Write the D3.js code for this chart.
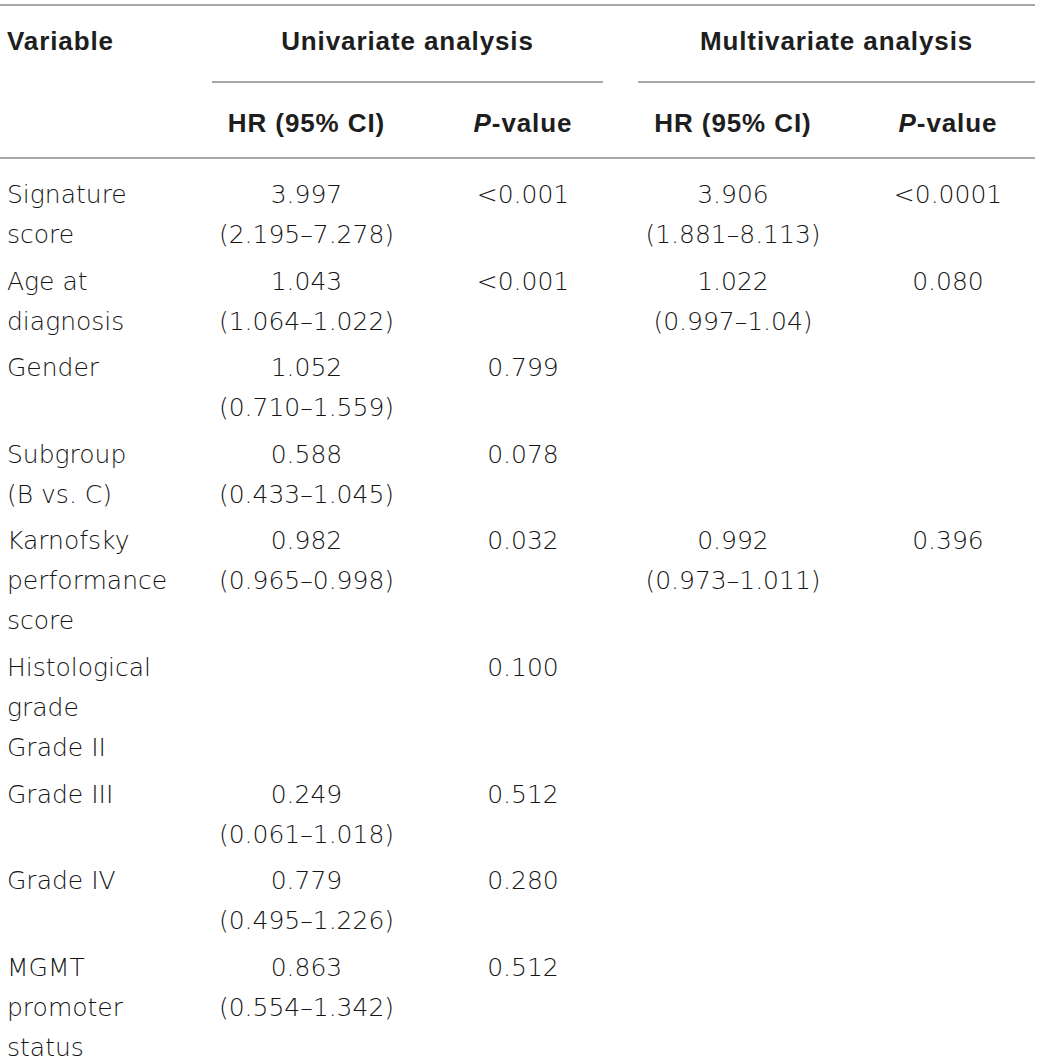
<!DOCTYPE html>
<html>
<head>
<meta charset="utf-8">
<script src="https://cdn.jsdelivr.net/npm/d3@7"></script>
<style>
  html, body { margin: 0; padding: 0; background: #fff; }
  svg { display: block; }
</style>
</head>
<body>
<div id="chart"></div>
<script>
// ---- Data ----
const variableLines = [
  ["Signature", "score"],
  ["Age at", "diagnosis"],
  ["Gender"],
  ["Subgroup", "(B vs. C)"],
  ["Karnofsky", "performance", "score"],
  ["Histological", "grade", "Grade II"],
  ["Grade III"],
  ["Grade IV"],
  ["MGMT", "promoter", "status"]
];
const uniHR = ["3.997", "1.043", "1.052", "0.588", "0.982", "", "0.249", "0.779", "0.863"];
const uniCI = ["(2.195–7.278)", "(1.064–1.022)", "(0.710–1.559)", "(0.433–1.045)", "(0.965–0.998)", "", "(0.061–1.018)", "(0.495–1.226)", "(0.554–1.342)"];
const uniP = ["<0.001", "<0.001", "0.799", "0.078", "0.032", "0.100", "0.512", "0.280", "0.512"];
const multiHR = ["3.906", "1.022", "", "", "0.992", "", "", "", ""];
const multiCI = ["(1.881–8.113)", "(0.997–1.04)", "", "", "(0.973–1.011)", "", "", "", ""];
const multiP = ["<0.0001", "0.080", "", "", "0.396", "", "", "", ""];
const groupHeaders = ["Univariate analysis", "Multivariate analysis"];
const columnKeys = ["var", "uHR", "uP", "mHR", "mP"];

// ---- Layout ----
const W = 1040, H = 1062;
const svg = d3.select("#chart").append("svg").attr("width", W).attr("height", H);

const bodyFont = "'DejaVu Sans', 'Liberation Sans', Arial, sans-serif";
const headFont = "'Liberation Sans', Arial, Helvetica, sans-serif";
const bodySize = 25;
const headSize = 26;
const textColor = "#151515";
const ruleColor = "#8a8a8a";

const xCol = d3.scaleOrdinal().domain(columnKeys).range([7, 306.5, 523, 733, 948]);
const groupSpan = [[212, 603], [638, 1035]];
const lineStep = 40, rowGap = 6.6, firstBaseline = 203;

// build line list (row index + line-in-row)
const lines = [];
let cum = 0;
variableLines.forEach((vl, i) => {
  const n = Math.max(vl.length, (uniCI[i] || multiCI[i]) ? 2 : 1);
  for (let k = 0; k < n; k++) {
    lines.push({
      pos: cum + k, row: i,
      var: vl[k] || "",
      uHR: k === 0 ? uniHR[i] : (k === 1 ? uniCI[i] : ""),
      uP: k === 0 ? uniP[i] : "",
      mHR: k === 0 ? multiHR[i] : (k === 1 ? multiCI[i] : ""),
      mP: k === 0 ? multiP[i] : ""
    });
  }
  cum += n;
});
const yLine = d3.scaleLinear().domain([0, 1]).range([firstBaseline, firstBaseline + lineStep]);
const yRow = d3.scaleLinear().domain([0, 1]).range([0, rowGap]);
const y = d => yLine(d.pos) + yRow(d.row);

// rules
const rules = [
  { x1: 0, x2: 1035, y: 5 },
  { x1: groupSpan[0][0], x2: groupSpan[0][1], y: 82 },
  { x1: groupSpan[1][0], x2: groupSpan[1][1], y: 82 },
  { x1: 0, x2: 1035, y: 158 }
];
svg.selectAll("line.rule").data(rules).join("line")
  .attr("class", "rule")
  .attr("x1", d => d.x1).attr("x2", d => d.x2)
  .attr("y1", d => d.y).attr("y2", d => d.y)
  .attr("stroke", ruleColor).attr("stroke-width", 1.5);

// headers
const hdr = svg.append("g").attr("font-family", headFont).attr("font-weight", "bold")
  .attr("font-size", headSize).attr("letter-spacing", 0.9).attr("fill", "#1e1e1e");
hdr.append("text").attr("x", xCol("var")).attr("y", 50).text("Variable");
hdr.selectAll("text.grp").data(groupHeaders).join("text")
  .attr("class", "grp")
  .attr("x", (d, i) => (groupSpan[i][0] + groupSpan[i][1]) / 2)
  .attr("y", 50).attr("text-anchor", "middle").text(d => d);

const sub = [
  { key: "uHR", type: "hr" }, { key: "uP", type: "p" },
  { key: "mHR", type: "hr" }, { key: "mP", type: "p" }
];
sub.forEach(s => {
  const t = hdr.append("text").attr("x", xCol(s.key)).attr("y", 132).attr("text-anchor", "middle");
  if (s.type === "hr") t.text("HR (95% CI)");
  else {
    t.append("tspan").attr("font-style", "italic").text("P");
    t.append("tspan").text("-value");
  }
});

// body
const body = svg.append("g").attr("font-family", bodyFont).attr("font-weight", 200)
  .attr("font-size", bodySize).attr("fill", textColor);
columnKeys.forEach(key => {
  body.selectAll("text." + key).data(lines.filter(d => d[key])).join("text")
    .attr("class", key)
    .attr("x", xCol(key))
    .attr("y", y)
    .attr("text-anchor", key === "var" ? "start" : "middle")
    .text(d => d[key]);
});
</script>
</body>
</html>
